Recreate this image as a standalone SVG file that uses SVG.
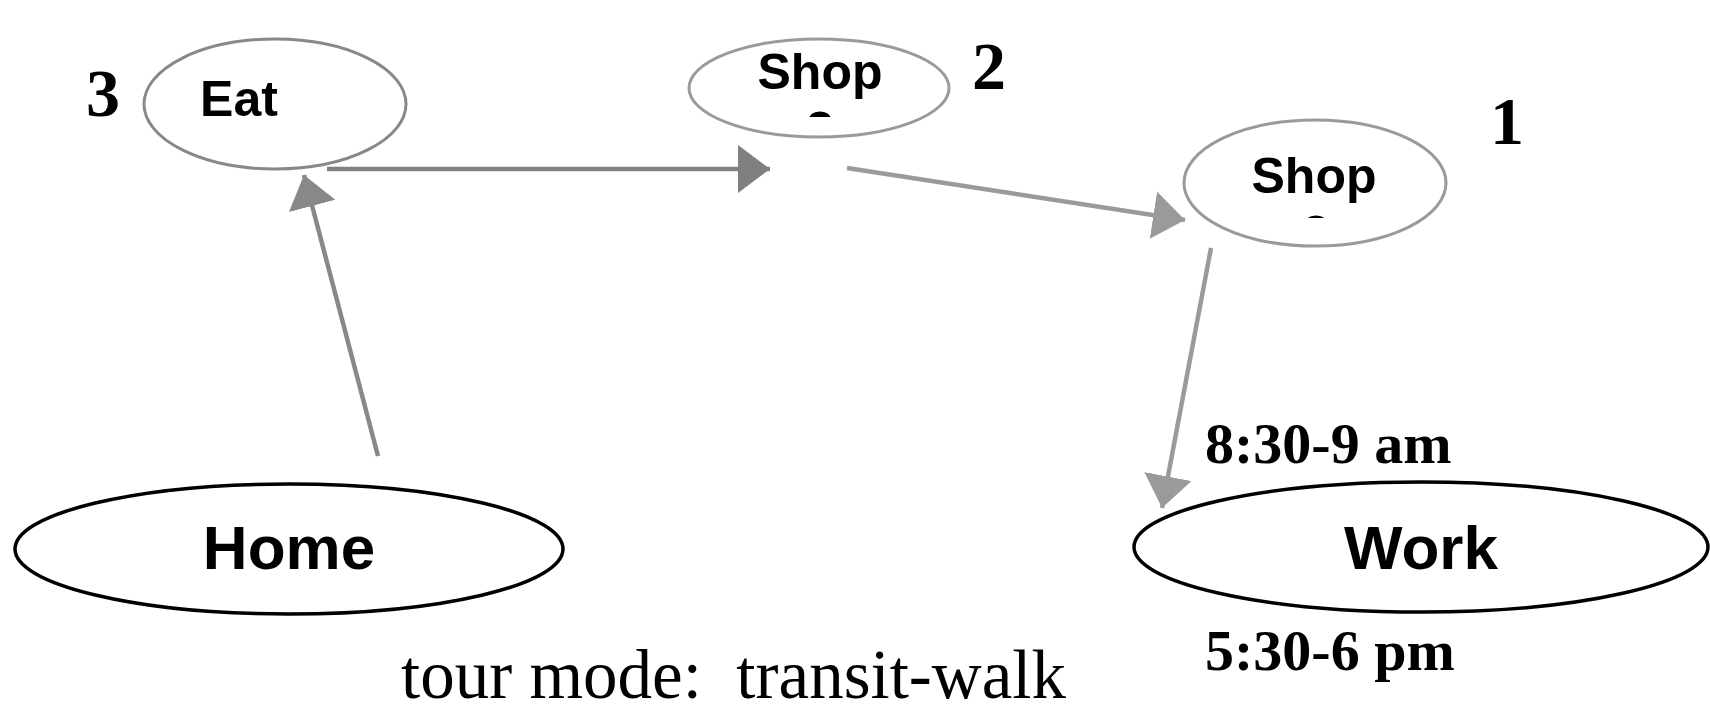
<svg xmlns="http://www.w3.org/2000/svg" width="1710" height="714" viewBox="0 0 1710 714">
<style>
.node-small{fill:#fff;stroke-width:3}
.node-big{fill:#fff;stroke:#000;stroke-width:3.5}
.lbl{font-family:"Liberation Sans",Arial,sans-serif;font-weight:bold;fill:#000;text-anchor:middle}
.num{font-family:"Liberation Serif","Times New Roman",serif;font-weight:bold;fill:#000;font-size:68px}
.time{font-family:"Liberation Serif","Times New Roman",serif;font-weight:bold;fill:#000;font-size:58px}
.edge{fill:none;stroke-width:4.5}
</style>
<defs>
<marker id="ah-dark" markerUnits="userSpaceOnUse" markerWidth="34" markerHeight="50" refX="32" refY="24" orient="auto"><path d="M0,0 L32,24 L0,48 z" fill="#808080"/></marker>
<marker id="ah-mid" markerUnits="userSpaceOnUse" markerWidth="34" markerHeight="50" refX="32" refY="24" orient="auto"><path d="M0,0 L32,24 L0,48 z" fill="#888"/></marker>
<marker id="ah-light" markerUnits="userSpaceOnUse" markerWidth="34" markerHeight="50" refX="32" refY="24" orient="auto"><path d="M0,0 L32,24 L0,48 z" fill="#9a9a9a"/></marker>
<clipPath id="clip-shop2"><rect x="700" y="40" width="240" height="77"/></clipPath>
<clipPath id="clip-shop1"><rect x="1190" y="130" width="250" height="88"/></clipPath>
</defs>

<g id="connectors">
<line class="edge" x1="378" y1="456" x2="304" y2="175" stroke="#888" marker-end="url(#ah-mid)"/>
<line class="edge" x1="327" y1="169" x2="770" y2="169" stroke="#808080" marker-end="url(#ah-dark)"/>
<line class="edge" x1="847" y1="168" x2="1185" y2="220" stroke="#9a9a9a" marker-end="url(#ah-light)"/>
<line class="edge" x1="1211" y1="248" x2="1162" y2="508" stroke="#9a9a9a" marker-end="url(#ah-light)"/>
</g>

<g id="node-eat">
<ellipse class="node-small" cx="275" cy="104" rx="131" ry="65" stroke="#888"/>
<text class="lbl" x="239" y="116" font-size="50">Eat</text>
<text class="num" x="86" y="116">3</text>
</g>

<g id="node-shop2">
<ellipse class="node-small" cx="819" cy="88" rx="130" ry="49" stroke="#9a9a9a"/>
<text class="lbl" x="820" y="89" font-size="50">Shop</text>
<text class="lbl" x="820" y="147" font-size="50" clip-path="url(#clip-shop2)">2</text>
<text class="num" x="972" y="89">2</text>
</g>

<g id="node-shop1">
<ellipse class="node-small" cx="1315" cy="183" rx="131" ry="63" stroke="#9a9a9a"/>
<text class="lbl" x="1314" y="193" font-size="50">Shop</text>
<text class="lbl" x="1316" y="251" font-size="50" clip-path="url(#clip-shop1)">2</text>
<text class="num" x="1490" y="144">1</text>
</g>

<g id="node-home">
<ellipse class="node-big" cx="289" cy="549" rx="274" ry="65"/>
<text class="lbl" x="289" y="569" font-size="62">Home</text>
</g>

<g id="node-work">
<ellipse class="node-big" cx="1421" cy="547" rx="287" ry="65"/>
<text class="lbl" x="1421" y="569" font-size="62">Work</text>
<text class="time" x="1205" y="463">8:30-9 am</text>
<text class="time" x="1205" y="670">5:30-6 pm</text>
</g>

<text x="401" y="698" font-family="'Liberation Serif','Times New Roman',serif" font-size="69" fill="#000" xml:space="preserve">tour mode:  transit-walk</text>
</svg>
